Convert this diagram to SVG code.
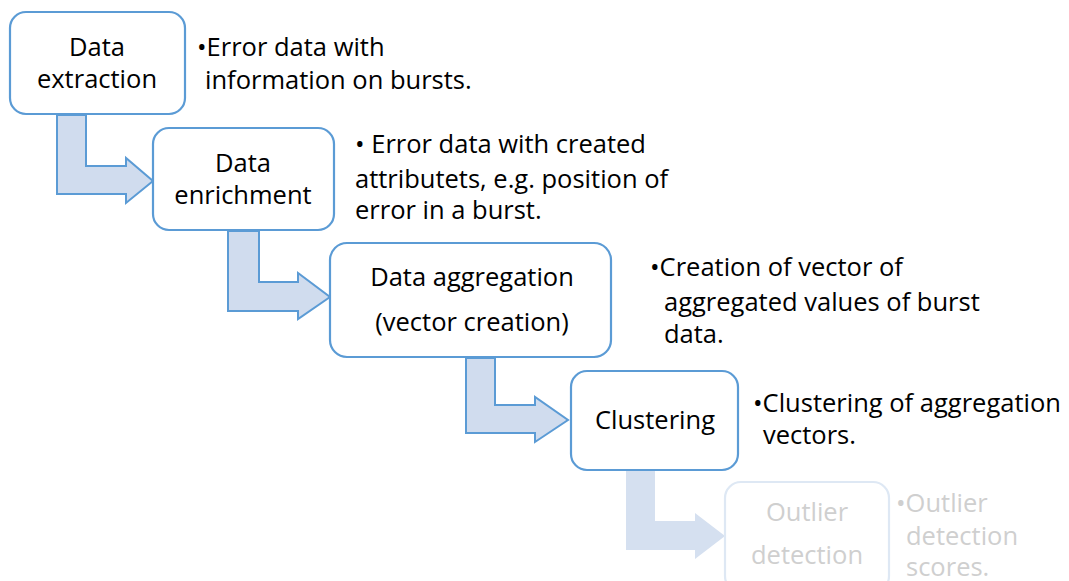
<svg xmlns="http://www.w3.org/2000/svg" width="1069" height="581" viewBox="0 0 1069 581">
  <style>
    .box { fill: #ffffff; stroke: #5B9BD5; stroke-width: 2.2; }
    .box-faded { fill: #ffffff; stroke: #DEE8F4; stroke-width: 2.2; }
    .arrow { fill: #D0DCEE; stroke: #5B9BD5; stroke-width: 2; stroke-linejoin: miter; }
    .arrow-faded { fill: #D5E0F0; stroke: none; }
    text { font-family: "Open Sans", Lato, "Liberation Sans", sans-serif; font-size: 25.5px; fill: #000000; }
    .c { text-anchor: middle; }
    .faded { fill: #CFCFCF; }
  </style>

  <!-- bent block arrows between the steps -->
  <g id="connectors">
    <path class="arrow" d="M57,115 L86,115 L86,166 L126,166 L126,158 L153,181 L126,203 L126,194 L57,194 Z"/>
    <path class="arrow" d="M228,231 L259,231 L259,282 L298,282 L298,273 L330,297 L298,319 L298,311 L228,311 Z"/>
    <path class="arrow" d="M466,358 L495,358 L495,405 L535,405 L535,397 L568,420 L535,442 L535,433 L466,433 Z"/>
    <path class="arrow-faded" d="M626,471 L655,471 L655,521 L695,521 L695,513 L725,536 L695,559 L695,550 L626,550 Z"/>
  </g>

  <g id="data-extraction">
    <rect class="box" x="10" y="12" width="175" height="102" rx="16"/>
    <text class="c" x="97" y="56">Data</text>
    <text class="c" x="97" y="88">extraction</text>
  </g>
  <g id="note-extraction">
    <text x="197" y="56">•Error data with</text>
    <text x="205" y="89">information on bursts.</text>
  </g>

  <g id="data-enrichment">
    <rect class="box" x="153" y="128" width="181" height="102" rx="16"/>
    <text class="c" x="243" y="172">Data</text>
    <text class="c" x="243" y="204">enrichment</text>
  </g>
  <g id="note-enrichment">
    <text x="355" y="153">• Error data with created</text>
    <text x="355" y="188">attributets, e.g. position of</text>
    <text x="355" y="219">error in a burst.</text>
  </g>

  <g id="data-aggregation">
    <rect class="box" x="330" y="243" width="281" height="114" rx="17"/>
    <text class="c" x="472" y="286">Data aggregation</text>
    <text class="c" x="472" y="331">(vector creation)</text>
  </g>
  <g id="note-aggregation">
    <text x="650" y="276">•Creation of vector of</text>
    <text x="664" y="311">aggregated values of burst</text>
    <text x="664" y="343">data.</text>
  </g>

  <g id="clustering">
    <rect class="box" x="571" y="371" width="167" height="99" rx="16"/>
    <text class="c" x="655" y="429">Clustering</text>
  </g>
  <g id="note-clustering">
    <text x="753" y="412">•Clustering of aggregation</text>
    <text x="763" y="444">vectors.</text>
  </g>

  <g id="outlier-detection">
    <rect class="box-faded" x="725" y="482" width="164" height="110" rx="16"/>
    <text class="c faded" x="807" y="521">Outlier</text>
    <text class="c faded" x="807" y="564">detection</text>
  </g>
  <g id="note-outlier">
    <text class="faded" x="896" y="512">•Outlier</text>
    <text class="faded" x="906" y="545">detection</text>
    <text class="faded" x="906" y="576">scores.</text>
  </g>
</svg>
